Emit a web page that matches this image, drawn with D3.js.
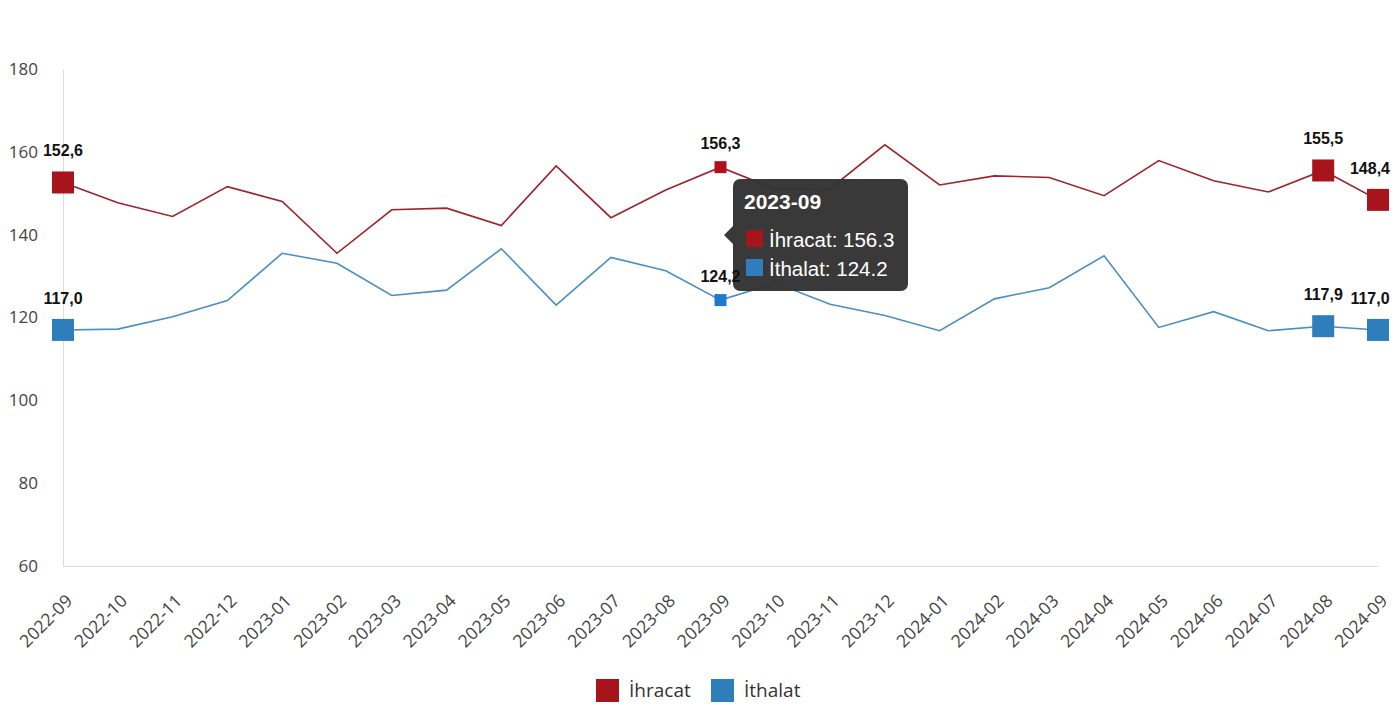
<!DOCTYPE html>
<html>
<head>
<meta charset="utf-8">
<script src="https://cdn.jsdelivr.net/npm/d3@7"></script>
<style>
  html, body { margin: 0; padding: 0; background: #fff; }
  svg { display: block; }
</style>
</head>
<body>
<svg id="chart" width="1400" height="720"></svg>
<script>
// ---- data ----
const months = ["2022-09","2022-10","2022-11","2022-12","2023-01","2023-02","2023-03","2023-04","2023-05","2023-06","2023-07","2023-08","2023-09","2023-10","2023-11","2023-12","2024-01","2024-02","2024-03","2024-04","2024-05","2024-06","2024-07","2024-08","2024-09"];
const ihracat = [152.6,147.7,144.4,151.6,148.0,135.5,146.0,146.4,142.2,156.6,144.1,150.8,156.3,151.0,151.1,161.7,152.0,154.2,153.8,149.4,157.9,153.0,150.3,155.5,148.4];
const ithalat = [117.0,117.2,120.2,124.1,135.5,133.1,125.3,126.6,136.6,123.0,134.5,131.3,124.2,128.3,123.2,120.5,116.8,124.5,127.2,134.9,117.6,121.4,116.8,117.9,117.0];
const yTicks = [60,80,100,120,140,160,180];
const seriesNames = ["İhracat","İthalat"];
const seriesColors = ["#a8141c","#2f7ebc"];
const lineColors = ["#a0222a","#4a8fc2"];
const labeledIdx = [0,12,23,24];   // points with value labels
const bigIdx = [0,23,24];          // large markers
const hoverIdx = 12;               // tooltip point

const W = 1400, H = 720;
const svg = d3.select("#chart");
const x = d3.scalePoint().domain(months).range([63, 1378]);
const y = d3.scaleLinear().domain([60, 180]).range([566, 69]);

// axes
const yAxis = svg.append("g").attr("transform", "translate(63,0)")
  .call(d3.axisLeft(y).tickValues(yTicks).tickSize(0).tickPadding(25));
yAxis.select(".domain").attr("stroke", "#dcdcdc");
yAxis.selectAll("text").attr("font-family", "'Open Sans', sans-serif").attr("font-size", 17).attr("fill", "#444");

const xAxis = svg.append("g").attr("transform", "translate(0,566)")
  .call(d3.axisBottom(x).tickSize(0).tickPadding(0));
xAxis.select(".domain").attr("stroke", "#dcdcdc");
xAxis.selectAll("text")
  .attr("font-family", "'Open Sans', sans-serif").attr("font-size", 17.5).attr("fill", "#444")
  .attr("text-anchor", "end")
  .attr("transform", "translate(10,36) rotate(-45)")
  .attr("dy", 0).attr("y", 0);

// lines
const series = [ihracat, ithalat];
const line = d3.line().x((d, i) => x(months[i])).y(d => y(d));
series.forEach((s, k) => {
  svg.append("path").datum(s).attr("d", line)
    .attr("fill", "none").attr("stroke", lineColors[k]).attr("stroke-width", 1.6);
});

// markers
series.forEach((s, k) => {
  labeledIdx.forEach(i => {
    const big = bigIdx.includes(i);
    const sz = big ? 22 : 12;
    let col = seriesColors[k];
    if (i === hoverIdx && k === 1) col = "#1f78d0";
    if (i === hoverIdx && k === 0) col = "#b01019";
    svg.append("rect")
      .attr("x", x(months[i]) - sz / 2).attr("y", y(s[i]) - sz / 2)
      .attr("width", sz).attr("height", sz).attr("fill", col);
  });
});

// tooltip
const tx = 733, ty = 179, tw = 175, th = 112, r = 7, ax = 724, ay = 235;
const tip = svg.append("g");
const p = d3.path();
p.moveTo(tx + r, ty);
p.lineTo(tx + tw - r, ty); p.arcTo(tx + tw, ty, tx + tw, ty + r, r);
p.lineTo(tx + tw, ty + th - r); p.arcTo(tx + tw, ty + th, tx + tw - r, ty + th, r);
p.lineTo(tx + r, ty + th); p.arcTo(tx, ty + th, tx, ty + th - r, r);
p.lineTo(tx, ay + 9); p.lineTo(ax, ay); p.lineTo(tx, ay - 9);
p.lineTo(tx, ty + r); p.arcTo(tx, ty, tx + r, ty, r);
p.closePath();
tip.append("path").attr("d", p.toString()).attr("fill", "#333").attr("fill-opacity", 0.97);
tip.append("text").attr("x", 744).attr("y", 209)
  .attr("font-family", "'Liberation Sans', Arial, sans-serif").attr("font-weight", "bold")
  .attr("font-size", 21).attr("fill", "#fff").text(months[hoverIdx]);
series.forEach((s, k) => {
  tip.append("rect").attr("x", 746).attr("y", 230 + k * 29).attr("width", 17).attr("height", 17)
    .attr("fill", seriesColors[k]);
  tip.append("text").attr("x", 769).attr("y", 247 + k * 29)
    .attr("font-family", "'Liberation Sans', Arial, sans-serif")
    .attr("font-size", 20.5).attr("fill", "#fff")
    .text(seriesNames[k] + ": " + s[hoverIdx].toFixed(1));
});

// value labels (drawn above tooltip, as in the reference)
series.forEach((s, k) => {
  labeledIdx.forEach(i => {
    const big = bigIdx.includes(i);
    const cx = Math.min(x(months[i]), W - 30);
    svg.append("text")
      .attr("x", cx).attr("y", y(s[i]) - (big ? 26 : 18))
      .attr("text-anchor", "middle")
      .attr("font-family", "'Liberation Sans', Arial, sans-serif")
      .attr("font-weight", "bold").attr("font-size", 16).attr("fill", "#111")
      .text(s[i].toFixed(1).replace(".", ","));
  });
});

// legend
const legX = [596, 711];
seriesNames.forEach((n, k) => {
  svg.append("rect").attr("x", legX[k]).attr("y", 679).attr("width", 23).attr("height", 23)
    .attr("fill", seriesColors[k]);
  svg.append("text").attr("x", legX[k] + 33).attr("y", 697)
    .attr("font-family", "'Open Sans', sans-serif").attr("font-size", 19).attr("fill", "#333")
    .text(n);
});
</script>
</body>
</html>
